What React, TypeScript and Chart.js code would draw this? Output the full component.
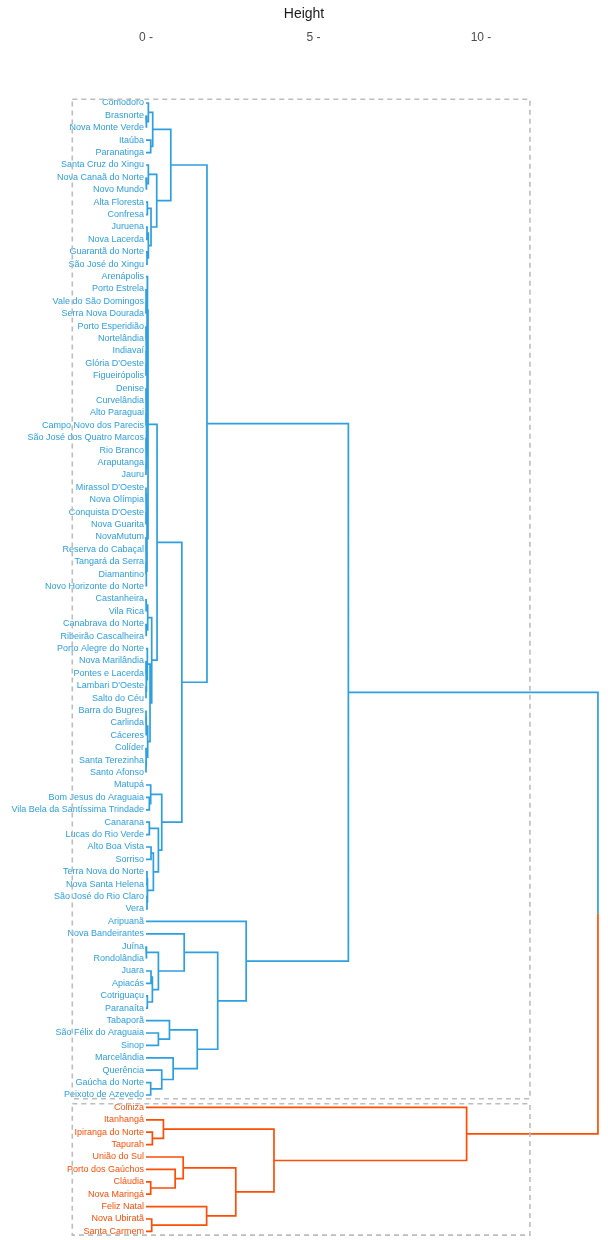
import { useEffect, useRef } from "react";
import { Chart, registerables } from "chart.js";

Chart.register(...registerables);

// ---------------- data ----------------
const leafLabels: string[] = [
  "Comodoro", "Brasnorte", "Nova Monte Verde", "Itaúba", "Paranatinga",
  "Santa Cruz do Xingu", "Nova Canaã do Norte", "Novo Mundo", "Alta Floresta", "Confresa",
  "Juruena", "Nova Lacerda", "Guarantã do Norte", "São José do Xingu", "Arenápolis",
  "Porto Estrela", "Vale do São Domingos", "Serra Nova Dourada", "Porto Esperidião", "Nortelândia",
  "Indiavaí", "Glória D'Oeste", "Figueirópolis", "Denise", "Curvelândia",
  "Alto Paraguai", "Campo Novo dos Parecis", "São José dos Quatro Marcos", "Rio Branco", "Araputanga",
  "Jauru", "Mirassol D'Oeste", "Nova Olímpia", "Conquista D'Oeste", "Nova Guarita",
  "NovaMutum", "Reserva do Cabaçal", "Tangará da Serra", "Diamantino", "Novo Horizonte do Norte",
  "Castanheira", "Vila Rica", "Canabrava do Norte", "Ribeirão Cascalheira", "Porto Alegre do Norte",
  "Nova Marilândia", "Pontes e Lacerda", "Lambari D'Oeste", "Salto do Céu", "Barra do Bugres",
  "Carlinda", "Cáceres", "Colíder", "Santa Terezinha", "Santo Afonso",
  "Matupá", "Bom Jesus do Araguaia", "Vila Bela da Santíssima Trindade", "Canarana", "Lucas do Rio Verde",
  "Alto Boa Vista", "Sorriso", "Terra Nova do Norte", "Nova Santa Helena", "São José do Rio Claro",
  "Vera", "Aripuanã", "Nova Bandeirantes", "Juína", "Rondolândia",
  "Juara", "Apiacás", "Cotriguaçu", "Paranaíta", "Tabaporã",
  "São Félix do Araguaia", "Sinop", "Marcelândia", "Querência", "Gaúcha do Norte",
  "Peixoto de Azevedo", "Colniza", "Itanhangá", "Ipiranga do Norte", "Tapurah",
  "União do Sul", "Porto dos Gaúchos", "Cláudia", "Nova Maringá", "Feliz Natal",
  "Nova Ubiratã", "Santa Carmem",
];

// number of consecutive leaves (in display order) in each cluster
const clusterSizes: number[] = [81, 11];
const clusterColors: string[] = ["#2E9FDF", "#FC4E07"];

// hclust-style merge table: negative = leaf -(index+1), positive = earlier merge (1-based)
const mergeLeft: number[] = [
  -2, -1, -4, 2, -7, -6, -9, -11, -13, 8,
  7, 6, 4, -17, -16, -19, -22, -21, 16, -24,
  -26, 20, -28, -30, 23, 22, 19, 15, -15, -32,
  -34, 30, -36, -38, 33, 35, 32, 29, -41, -43,
  39, -46, -48, 42, -45, -50, 46, -54, -53, 47,
  45, 41, 38, -57, -56, -59, -61, -63, -65, 58,
  57, 56, 55, 53, 13, -69, -71, -73, 67, 66,
  -68, -76, -75, -80, -79, -78, 73, 71, -67, 65,
  -84, -83, -88, -87, -86, -91, -90, 85, 82, -82,
  80,
];
const mergeRight: number[] = [
  -3, 1, -5, 3, -8, 5, -10, -12, -14, 9,
  10, 11, 12, -18, 14, -20, -23, 17, 18, -25,
  -27, 21, -29, -31, 24, 25, 26, 27, 28, -33,
  -35, 31, -37, -39, 34, -40, 36, 37, -42, -44,
  40, -47, -49, 43, 44, -51, -52, -55, 48, 49,
  50, 51, 52, -58, 54, -60, -62, -64, -66, 59,
  60, 61, 62, 63, 64, -70, -72, -74, 68, 69,
  70, -77, 72, -81, 74, 75, 76, 77, 78, 79,
  -85, 81, -89, 83, 84, -92, 86, 87, 88, 89,
  90,
];
const mergeHeight: number[] = [
  0.02, 0.07, 0.14, 0.2, 0.02, 0.07, 0.04, 0.03, 0.03, 0.07,
  0.15, 0.32, 0.74, 0.0, 0.01, 0.0, 0.0, 0.01, 0.015, 0.0,
  0.0, 0.01, 0.0, 0.0, 0.01, 0.02, 0.03, 0.035, 0.045, 0.0,
  0.0, 0.01, 0.0, 0.0, 0.01, 0.015, 0.03, 0.06, 0.01, 0.01,
  0.05, 0.0, 0.0, 0.02, 0.04, 0.0, 0.01, 0.0, 0.01, 0.05,
  0.12, 0.17, 0.33, 0.1, 0.14, 0.1, 0.15, 0.03, 0.03, 0.05,
  0.22, 0.37, 0.47, 1.07, 1.82, 0.02, 0.15, 0.04, 0.19, 0.37,
  1.14, 0.37, 0.7, 0.14, 0.47, 0.81, 1.53, 2.14, 2.99, 6.04,
  0.19, 0.52, 0.14, 0.87, 1.11, 0.17, 1.81, 2.68, 3.82, 9.57,
  13.49,
];

const heightTicks: number[] = [0, 5, 10];
const rectHeightRange: number[] = [-2.2, 11.46];

// ---------------- helpers ----------------
const FONT = '"Liberation Sans", Arial, Helvetica, sans-serif';

type Pt = { x: number; y: number };

function buildTree() {
  const leafCluster: number[] = [];
  clusterSizes.forEach((n, c) => {
    for (let i = 0; i < n; i++) leafCluster.push(c);
  });
  const n = mergeHeight.length;
  const pos: number[] = new Array(n + 1).fill(0);
  const clus: number[] = new Array(n + 1).fill(-1);
  const posOf = (id: number) => (id < 0 ? -id - 1 : pos[id]);
  const hOf = (id: number) => (id < 0 ? 0 : mergeHeight[id - 1]);
  const cOf = (id: number) => (id < 0 ? leafCluster[-id - 1] : clus[id]);
  const lines: Pt[][] = clusterColors.map(() => []);
  const gap: Pt = { x: NaN, y: NaN };
  for (let k = 1; k <= n; k++) {
    const a = mergeLeft[k - 1];
    const b = mergeRight[k - 1];
    const h = mergeHeight[k - 1];
    const ya = posOf(a);
    const yb = posOf(b);
    pos[k] = (ya + yb) / 2;
    const ca = cOf(a);
    const cb = cOf(b);
    clus[k] = ca === cb ? ca : -1;
    if (clus[k] >= 0) {
      lines[clus[k]].push(
        { x: hOf(a), y: ya }, { x: h, y: ya }, { x: h, y: yb }, { x: hOf(b), y: yb }, gap
      );
    } else {
      const mid = pos[k];
      if (ca >= 0) lines[ca].push({ x: hOf(a), y: ya }, { x: h, y: ya }, { x: h, y: mid }, gap);
      if (cb >= 0) lines[cb].push({ x: h, y: mid }, { x: h, y: yb }, { x: hOf(b), y: yb }, gap);
    }
  }
  return { leafCluster, lines };
}

export default function App() {
  const ref = useRef<HTMLCanvasElement | null>(null);

  useEffect(() => {
    if (!ref.current) return;
    const { leafCluster, lines } = buildTree();

    const datasets: any[] = [];
    // cluster rectangles
    let start = 0;
    clusterSizes.forEach((size) => {
      const top = start - 0.3;
      const bot = start + size - 1 + 0.3;
      const [x0, x1] = rectHeightRange;
      datasets.push({
        data: [
          { x: x0, y: top }, { x: x1, y: top }, { x: x1, y: bot }, { x: x0, y: bot }, { x: x0, y: top },
        ],
        showLine: true,
        borderColor: "#BDBDBD",
        borderWidth: 1.6,
        borderDash: [5, 4],
        pointRadius: 0,
        fill: false,
        order: 0,
      });
      start += size;
    });
    lines.forEach((pts, c) => {
      datasets.push({
        data: pts,
        showLine: true,
        spanGaps: false,
        borderColor: clusterColors[c],
        borderWidth: 1.7,
        borderJoinStyle: "miter",
        borderCapStyle: "butt",
        pointRadius: 0,
        fill: false,
        tension: 0,
        order: 1,
      });
    });

    const chart = new Chart(ref.current, {
      type: "scatter",
      data: { datasets },
      options: {
        animation: false,
        responsive: false,
        layout: { padding: 0 },
        events: [],
        plugins: { legend: { display: false }, tooltip: { enabled: false } },
        scales: {
          x: {
            type: "linear",
            position: "top",
            min: -4.358,
            max: 13.79,
            afterBuildTicks: (s: any) => {
              s.ticks = heightTicks.map((v) => ({ value: v }));
            },
            afterFit: (s: any) => {
              s.height = 52;
              s.paddingLeft = 0;
              s.paddingRight = 0;
            },
            grid: { display: false, drawTicks: false },
            border: { display: false },
            ticks: {
              padding: 7,
              autoSkip: false,
              maxRotation: 0,
              color: "#4D4D4D",
              font: { family: FONT, size: 12 },
              callback: (v: any) => `${v} -`,
            },
            title: {
              display: true,
              text: "Height",
              color: "#1A1A1A",
              font: { family: FONT, size: 14 },
              padding: { top: 6, bottom: 0 },
            },
          },
          y: {
            type: "linear",
            position: { x: -0.06 } as any,
            reverse: true,
            min: -4.113,
            max: 91.694,
            afterBuildTicks: (s: any) => {
              s.ticks = leafLabels.map((_, i) => ({ value: i }));
            },
            afterFit: (s: any) => {
              s.paddingTop = 0;
              s.paddingBottom = 0;
            },
            grid: { display: false, drawTicks: false },
            border: { display: false },
            ticks: {
              autoSkip: false,
              padding: 0,
              font: { family: FONT, size: 9 },
              color: (ctx: any) =>
                ctx && ctx.tick ? clusterColors[leafCluster[ctx.tick.value]] : clusterColors[0],
              callback: (v: any) => leafLabels[v as number],
            },
          },
        },
      },
    });
    return () => chart.destroy();
  }, []);

  return (
    <div style={{ position: "absolute", left: 0, top: 0, width: 608, height: 1240, background: "#fff" }}>
      <canvas ref={ref} width={608} height={1240} style={{ display: "block" }} />
    </div>
  );
}
